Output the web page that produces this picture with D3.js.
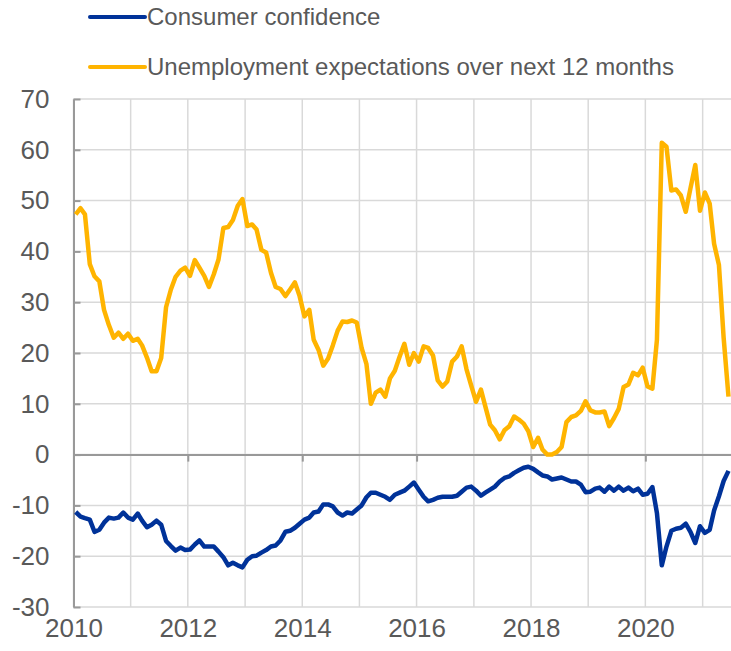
<!DOCTYPE html>
<html>
<head>
<meta charset="utf-8">
<script src="https://cdn.jsdelivr.net/npm/d3@7"></script>
<style>
  body { margin: 0; background: #fff; }
  svg text { font-family: Arial, "Liberation Sans", sans-serif; fill: #595959; }
</style>
</head>
<body>
<div id="chart"></div>
<script>
// monthly values, Jan 2010 - Jun 2021
const startYear = 2010;
const consumerConfidence = [
  -11.3, -12.2, -12.5, -12.8, -15.2, -14.8, -13.4, -12.4, -12.6, -12.4, -11.4, -12.4,
  -12.8, -11.6, -13.0, -14.3, -13.8, -13.0, -13.8, -17.0, -18.0, -18.9, -18.3, -18.8,
  -18.7, -17.7, -16.9, -18.1, -18.1, -18.1, -19.1, -20.2, -21.8, -21.3, -21.8, -22.2,
  -20.7, -20.0, -19.9, -19.3, -18.8, -18.1, -17.9, -16.9, -15.2, -15.0, -14.4, -13.6,
  -12.8, -12.4, -11.4, -11.2, -9.8, -9.8, -10.2, -11.4, -12.0, -11.4, -11.6, -10.8,
  -10.0, -8.4, -7.5, -7.5, -7.9, -8.3, -8.9, -7.9, -7.5, -7.1, -6.3, -5.5,
  -6.9, -8.3, -9.2, -8.9, -8.5, -8.3, -8.3, -8.3, -8.1, -7.3, -6.5, -6.3,
  -7.1, -8.1, -7.5, -6.9, -6.3, -5.3, -4.6, -4.3, -3.6, -3.1, -2.6, -2.4,
  -2.8, -3.5, -4.1, -4.3, -4.9, -4.7, -4.5, -4.9, -5.3, -5.3, -5.9, -7.4,
  -7.3, -6.7, -6.5, -7.3, -6.3, -7.1, -6.3, -7.1, -6.5, -7.2, -6.7, -7.9,
  -7.7, -6.4, -11.5, -21.8, -18.1, -15.0, -14.6, -14.4, -13.6, -15.2, -17.4, -14.1,
  -15.4, -14.8, -11.0, -8.2, -5.2, -3.2
];
const unemploymentExpectations = [
  47.3, 48.5, 47.3, 37.5, 35.1, 34.1, 28.5, 25.5, 23.0, 24.0, 22.8, 23.8,
  22.4, 22.8, 21.5, 19.1, 16.4, 16.4, 19.0, 29.0, 32.5, 35.0, 36.2, 36.8,
  35.2, 38.3, 36.8, 35.2, 33.0, 35.5, 38.4, 44.6, 44.8, 46.2, 49.0, 50.3,
  45.0, 45.3, 44.3, 40.3, 39.8, 35.8, 33.0, 32.6, 31.2, 32.5, 33.9, 31.2,
  27.2, 28.5, 22.6, 20.6, 17.5, 18.9, 21.5, 24.4, 26.2, 26.1, 26.4, 26.0,
  21.0, 17.8, 10.0, 12.2, 12.8, 11.4, 15.0, 16.5, 19.3, 21.8, 17.7, 20.0,
  18.3, 21.3, 21.0, 19.5, 14.6, 13.4, 14.4, 18.3, 19.3, 21.3, 16.8, 13.6,
  10.4, 12.8, 9.5, 5.9, 4.8, 3.0, 4.8, 5.6, 7.5, 6.9, 6.1, 4.6,
  1.5, 3.3, 1.0, 0.0, 0.0, 0.5, 1.5, 6.4, 7.4, 7.7, 8.6, 10.5,
  8.7, 8.3, 8.3, 8.5, 5.6, 7.2, 9.0, 13.3, 13.8, 16.1, 15.6, 17.1,
  13.4, 13.0, 22.6, 61.4, 60.6, 52.0, 52.2, 51.0, 47.8, 52.4, 57.0, 48.0,
  51.6, 49.4, 41.5, 37.3, 23.0, 11.4
];
const yTicks = [-30, -20, -10, 0, 10, 20, 30, 40, 50, 60, 70];
const labelYears = [2010, 2012, 2014, 2016, 2018, 2020];
const seriesNames = ["Consumer confidence", "Unemployment expectations over next 12 months"];
const colors = ["#003299", "#FFB400"];

const width = 731, height = 651;
const margin = { top: 99, right: 0, bottom: 44, left: 73.5 };

const svg = d3.select("#chart").append("svg")
  .attr("width", width)
  .attr("height", height);

const x = d3.scaleTime()
  .domain([new Date(2010, 0, 1), new Date(2021, 6, 1)])
  .range([margin.left, width - margin.right]);
const y = d3.scaleLinear()
  .domain([-30, 70])
  .range([height - margin.bottom, margin.top]);

const monthDate = i => new Date(startYear, i, 15);

// gridlines
const yearLines = d3.range(2010, 2022).map(yr => new Date(yr, 0, 1));
svg.append("g")
  .selectAll("line")
  .data(yearLines)
  .join("line")
  .attr("x1", d => x(d)).attr("x2", d => x(d))
  .attr("y1", y(70)).attr("y2", y(-30))
  .attr("stroke", "#d9d9d9").attr("stroke-width", 1.5);

svg.append("g")
  .selectAll("line")
  .data(yTicks)
  .join("line")
  .attr("x1", margin.left).attr("x2", width)
  .attr("y1", d => y(d)).attr("y2", d => y(d))
  .attr("stroke", "#d9d9d9").attr("stroke-width", 1.5);

// y axis (plain hyphen for negatives)
const yAxis = svg.append("g")
  .attr("transform", `translate(${margin.left},0)`)
  .call(d3.axisLeft(y).tickValues(yTicks).tickSize(-7).tickPadding(24).tickSizeOuter(0)
    .tickFormat(d => String(d)));
yAxis.select(".domain").attr("stroke", "#999").attr("stroke-width", 2);
yAxis.selectAll(".tick line").attr("stroke", "#999").attr("stroke-width", 2);
yAxis.selectAll(".tick text").style("font-size", "26px").attr("fill", "#595959");

// zero line with ticks on even years
const zeroAxis = svg.append("g")
  .attr("transform", `translate(0,${y(0)})`)
  .call(d3.axisBottom(x)
    .tickValues(labelYears.map(yr => new Date(yr, 0, 1)))
    .tickSize(7).tickSizeOuter(0).tickFormat(""));
zeroAxis.select(".domain").attr("stroke", "#999").attr("stroke-width", 2);
zeroAxis.selectAll(".tick line").attr("stroke", "#999").attr("stroke-width", 2);

// year labels under the plot
const labelAxis = svg.append("g")
  .attr("transform", `translate(0,${y(-30)})`)
  .call(d3.axisBottom(x)
    .tickValues(labelYears.map(yr => new Date(yr, 0, 1)))
    .tickSize(0).tickPadding(12).tickFormat(d3.timeFormat("%Y")));
labelAxis.select(".domain").remove();
labelAxis.selectAll(".tick text").style("font-size", "26px").attr("fill", "#595959");

// lines
const line = d3.line()
  .x((d, i) => x(monthDate(i)))
  .y(d => y(d));

svg.append("path")
  .datum(unemploymentExpectations)
  .attr("d", line)
  .attr("fill", "none")
  .attr("stroke", colors[1])
  .attr("stroke-width", 4.5)
  .attr("stroke-linejoin", "round");

svg.append("path")
  .datum(consumerConfidence)
  .attr("d", line)
  .attr("fill", "none")
  .attr("stroke", colors[0])
  .attr("stroke-width", 4.5)
  .attr("stroke-linejoin", "round");

// legend
const legend = svg.append("g");
seriesNames.forEach((name, i) => {
  const ly = 17 + i * 50;
  legend.append("line")
    .attr("x1", 90).attr("x2", 145)
    .attr("y1", ly).attr("y2", ly)
    .attr("stroke", colors[i]).attr("stroke-width", 4)
    .attr("stroke-linecap", "round");
  legend.append("text")
    .attr("x", 147).attr("y", ly)
    .attr("dy", "0.35em")
    .style("font-size", "24px")
    .text(name);
});
</script>
</body>
</html>
